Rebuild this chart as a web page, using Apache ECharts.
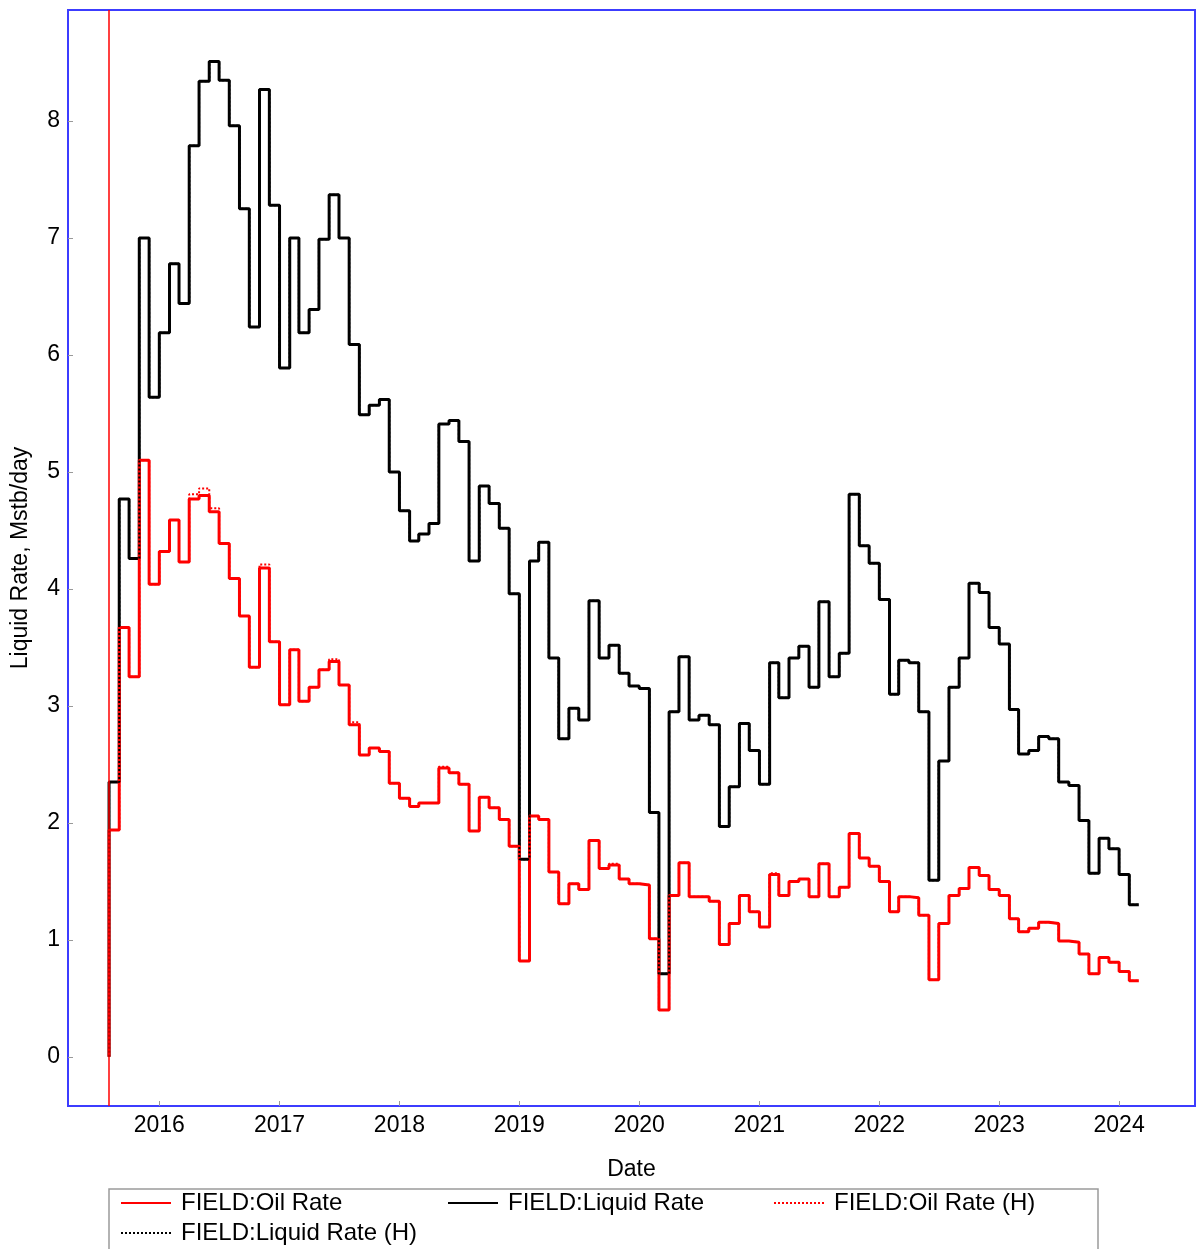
<!DOCTYPE html>
<html>
<head>
<meta charset="utf-8">
<title>FIELD rates</title>
<script src="https://cdn.jsdelivr.net/npm/echarts@6/dist/echarts.min.js"></script>
<style>
  html, body { margin: 0; padding: 0; background: #ffffff; }
  #chart { width: 1197px; height: 1249px; }
</style>
</head>
<body>
<div id="chart"></div>
<script>
// Monthly report values, one per month starting August 2015 (value covers that month).
const firstMonth = [2015, 8];

const oilRate = [
  1.94, 3.67, 3.25, 5.10, 4.04, 4.32, 4.59, 4.23, 4.77, 4.80,
  4.66, 4.39, 4.09, 3.77, 3.33, 4.18, 3.55, 3.01, 3.48, 3.04,
  3.16, 3.31, 3.38, 3.18, 2.84, 2.58, 2.64, 2.61, 2.34, 2.21,
  2.14, 2.17, 2.17, 2.47, 2.43, 2.33, 1.93, 2.22, 2.13, 2.03,
  1.80, 0.82, 2.06, 2.03, 1.58, 1.31, 1.48, 1.43, 1.85, 1.61,
  1.64, 1.52, 1.48, 1.47, 1.01, 0.40, 1.38, 1.66, 1.37, 1.37,
  1.33, 0.96, 1.14, 1.38, 1.24, 1.11, 1.56, 1.38, 1.50, 1.52,
  1.37, 1.65, 1.37, 1.45, 1.91, 1.70, 1.63, 1.50, 1.24, 1.37,
  1.36, 1.21, 0.66, 1.14, 1.38, 1.44, 1.62, 1.55, 1.43, 1.38,
  1.18, 1.07, 1.10, 1.15, 1.14, 0.99, 0.98, 0.88, 0.71, 0.85,
  0.81, 0.73, 0.65
];

const liquidRate = [
  2.35, 4.77, 4.26, 7.00, 5.64, 6.19, 6.78, 6.44, 7.79, 8.34,
  8.51, 8.35, 7.96, 7.25, 6.24, 8.27, 7.28, 5.89, 7.00, 6.19,
  6.39, 6.99, 7.37, 7.00, 6.09, 5.49, 5.57, 5.62, 5.00, 4.67,
  4.41, 4.47, 4.56, 5.41, 5.44, 5.26, 4.24, 4.88, 4.73, 4.52,
  3.96, 1.69, 4.24, 4.40, 3.41, 2.72, 2.98, 2.88, 3.90, 3.41,
  3.52, 3.28, 3.17, 3.15, 2.09, 0.71, 2.95, 3.42, 2.88, 2.92,
  2.84, 1.97, 2.31, 2.85, 2.62, 2.33, 3.37, 3.07, 3.41, 3.51,
  3.16, 3.89, 3.25, 3.45, 4.81, 4.37, 4.22, 3.91, 3.10, 3.39,
  3.37, 2.95, 1.51, 2.53, 3.16, 3.41, 4.05, 3.97, 3.67, 3.53,
  2.97, 2.59, 2.62, 2.74, 2.72, 2.35, 2.32, 2.02, 1.57, 1.87,
  1.78, 1.56, 1.30
];

// Historical (observed) rates
const oilRateHist = [
  1.94, 3.67, 3.25, 5.10, 4.04, 4.32, 4.59, 4.23, 4.81, 4.86,
  4.69, 4.39, 4.09, 3.77, 3.33, 4.21, 3.55, 3.01, 3.48, 3.04,
  3.16, 3.31, 3.40, 3.18, 2.86, 2.58, 2.64, 2.61, 2.34, 2.21,
  2.14, 2.17, 2.17, 2.48, 2.43, 2.33, 1.93, 2.22, 2.13, 2.03,
  1.80, 0.82, 2.06, 2.03, 1.58, 1.31, 1.48, 1.43, 1.85, 1.61,
  1.65, 1.52, 1.48, 1.47, 1.01, 0.40, 1.38, 1.66, 1.37, 1.37,
  1.33, 0.96, 1.14, 1.38, 1.24, 1.11, 1.57, 1.38, 1.50, 1.52,
  1.37, 1.65, 1.37, 1.45, 1.91, 1.70, 1.63, 1.50, 1.24, 1.37,
  1.36, 1.21, 0.66, 1.14, 1.38, 1.44, 1.62, 1.55, 1.43, 1.38,
  1.18, 1.07, 1.10, 1.15, 1.14, 0.99, 0.98, 0.88, 0.71, 0.85,
  0.81, 0.73, 0.65
];

const liquidRateHist = [
  2.35, 4.77, 4.26, 7.00, 5.64, 6.19, 6.78, 6.44, 7.79, 8.34,
  8.51, 8.35, 7.96, 7.25, 6.24, 8.27, 7.28, 5.89, 7.00, 6.19,
  6.39, 6.99, 7.37, 7.00, 6.09, 5.49, 5.57, 5.62, 5.00, 4.67,
  4.41, 4.47, 4.56, 5.41, 5.44, 5.26, 4.24, 4.88, 4.73, 4.52,
  3.96, 1.69, 4.24, 4.40, 3.41, 2.72, 2.98, 2.88, 3.90, 3.41,
  3.52, 3.28, 3.17, 3.15, 2.09, 0.71, 2.95, 3.42, 2.88, 2.92,
  2.84, 1.97, 2.31, 2.85, 2.62, 2.33, 3.37, 3.07, 3.41, 3.51,
  3.16, 3.89, 3.25, 3.45, 4.81, 4.37, 4.22, 3.91, 3.10, 3.39,
  3.37, 2.95, 1.51, 2.53, 3.16, 3.41, 4.05, 3.97, 3.67, 3.53,
  2.97, 2.59, 2.62, 2.74, 2.72, 2.35, 2.32, 2.02, 1.57, 1.87,
  1.78, 1.56, 1.30
];

const seriesNames = ['FIELD:Oil Rate', 'FIELD:Liquid Rate', 'FIELD:Oil Rate (H)', 'FIELD:Liquid Rate (H)'];
const startDate = '2015-08-01';
const axisRange = { xMin: '2015-03-29', xMax: '2024-08-19', yMin: -0.42, yMax: 8.95 };

function monthDate(offset) {
  const total = firstMonth[0] * 12 + (firstMonth[1] - 1) + offset;
  const y = Math.floor(total / 12);
  const m = total % 12 + 1;
  return y + '-' + String(m).padStart(2, '0') + '-01';
}

// Each month's rate is reported at the end of the month; the first point is the zero start.
function toSteps(values) {
  const pts = [[monthDate(0), 0]];
  values.forEach((v, i) => pts.push([monthDate(i + 1), v]));
  return pts;
}

const FONT = '"Liberation Sans", Arial, sans-serif';
const BLUE = '#3c3cff';

const chart = echarts.init(document.getElementById('chart'), null, { renderer: 'canvas' });

const legendCommon = {
  orient: 'horizontal',
  itemWidth: 50,
  itemHeight: 14,
  itemGap: 0,
  padding: 0,
  selectedMode: false,
  itemStyle: { opacity: 0 },
  textStyle: { fontSize: 24, color: '#000', fontFamily: FONT, padding: [0, 0, 0, 5] }
};

chart.setOption({
  animation: false,
  backgroundColor: '#ffffff',
  grid: {
    left: 68, top: 10, right: 2, bottom: 143,
    show: true, borderColor: BLUE, borderWidth: 2, containLabel: false
  },
  xAxis: {
    type: 'time',
    min: axisRange.xMin,
    max: axisRange.xMax,
    minInterval: 365 * 24 * 3600 * 1000,
    maxInterval: 366 * 24 * 3600 * 1000,
    name: 'Date',
    nameLocation: 'middle',
    nameGap: 52,
    nameTextStyle: { fontSize: 23, color: '#000', fontFamily: FONT },
    axisLine: { show: true, onZero: false, lineStyle: { color: BLUE, width: 2 } },
    axisTick: { show: true, inside: true, length: 5, lineStyle: { color: '#999', width: 1 } },
    axisLabel: {
      color: '#000', fontSize: 23, fontFamily: FONT, margin: 8,
      formatter: '{yyyy}', hideOverlap: false
    },
    splitLine: { show: false }
  },
  yAxis: {
    type: 'value',
    min: axisRange.yMin,
    max: axisRange.yMax,
    splitNumber: 9,
    name: 'Liquid Rate, Mstb/day',
    nameLocation: 'middle',
    nameRotate: 90,
    nameGap: 36,
    nameTextStyle: { fontSize: 23, color: '#000', fontFamily: FONT },
    axisLine: { show: true, onZero: false, lineStyle: { color: BLUE, width: 2 } },
    axisTick: { show: true, inside: true, length: 5, lineStyle: { color: '#999', width: 1 } },
    axisLabel: {
      color: '#000', fontSize: 23, fontFamily: FONT, margin: 8,
      showMinLabel: false, showMaxLabel: false,
      formatter: v => (Math.abs(v - Math.round(v)) < 1e-6 ? String(Math.round(v)) : '')
    },
    splitLine: { show: false }
  },
  legend: [
    Object.assign({ data: [seriesNames[0]], left: 120, top: 1191 }, legendCommon),
    Object.assign({ data: [seriesNames[1]], left: 447, top: 1191 }, legendCommon),
    Object.assign({ data: [seriesNames[2]], left: 773, top: 1191 }, legendCommon),
    Object.assign({ data: [seriesNames[3]], left: 120, top: 1221 }, legendCommon)
  ],
  graphic: [{
    type: 'rect',
    silent: true,
    shape: { x: 109, y: 1189, width: 989, height: 80 },
    style: { fill: 'none', stroke: '#9a9a9a', lineWidth: 1.5 }
  }],
  series: [
    {
      name: seriesNames[0], type: 'line', step: 'start', symbol: 'none',
      data: toSteps(oilRate),
      lineStyle: { color: '#ff0000', width: 3 },
      itemStyle: { color: '#ff0000' },
      markLine: {
        silent: true, symbol: ['none', 'none'], animation: false,
        label: { show: false },
        lineStyle: { color: '#ff0000', width: 1.5, type: 'solid' },
        data: [{ xAxis: startDate }]
      },
      z: 3
    },
    {
      name: seriesNames[1], type: 'line', step: 'start', symbol: 'none',
      data: toSteps(liquidRate),
      lineStyle: { color: '#000000', width: 3 },
      itemStyle: { color: '#000000' },
      z: 2
    },
    {
      name: seriesNames[2], type: 'line', step: 'start', symbol: 'none',
      data: toSteps(oilRateHist),
      lineStyle: { color: '#ff0000', width: 2, type: [2, 2] },
      itemStyle: { color: '#ff0000' },
      z: 4
    },
    {
      name: seriesNames[3], type: 'line', step: 'start', symbol: 'none',
      data: toSteps(liquidRateHist),
      lineStyle: { color: '#000000', width: 2, type: [2, 2] },
      itemStyle: { color: '#000000' },
      z: 4
    }
  ]
});
</script>
</body>
</html>
